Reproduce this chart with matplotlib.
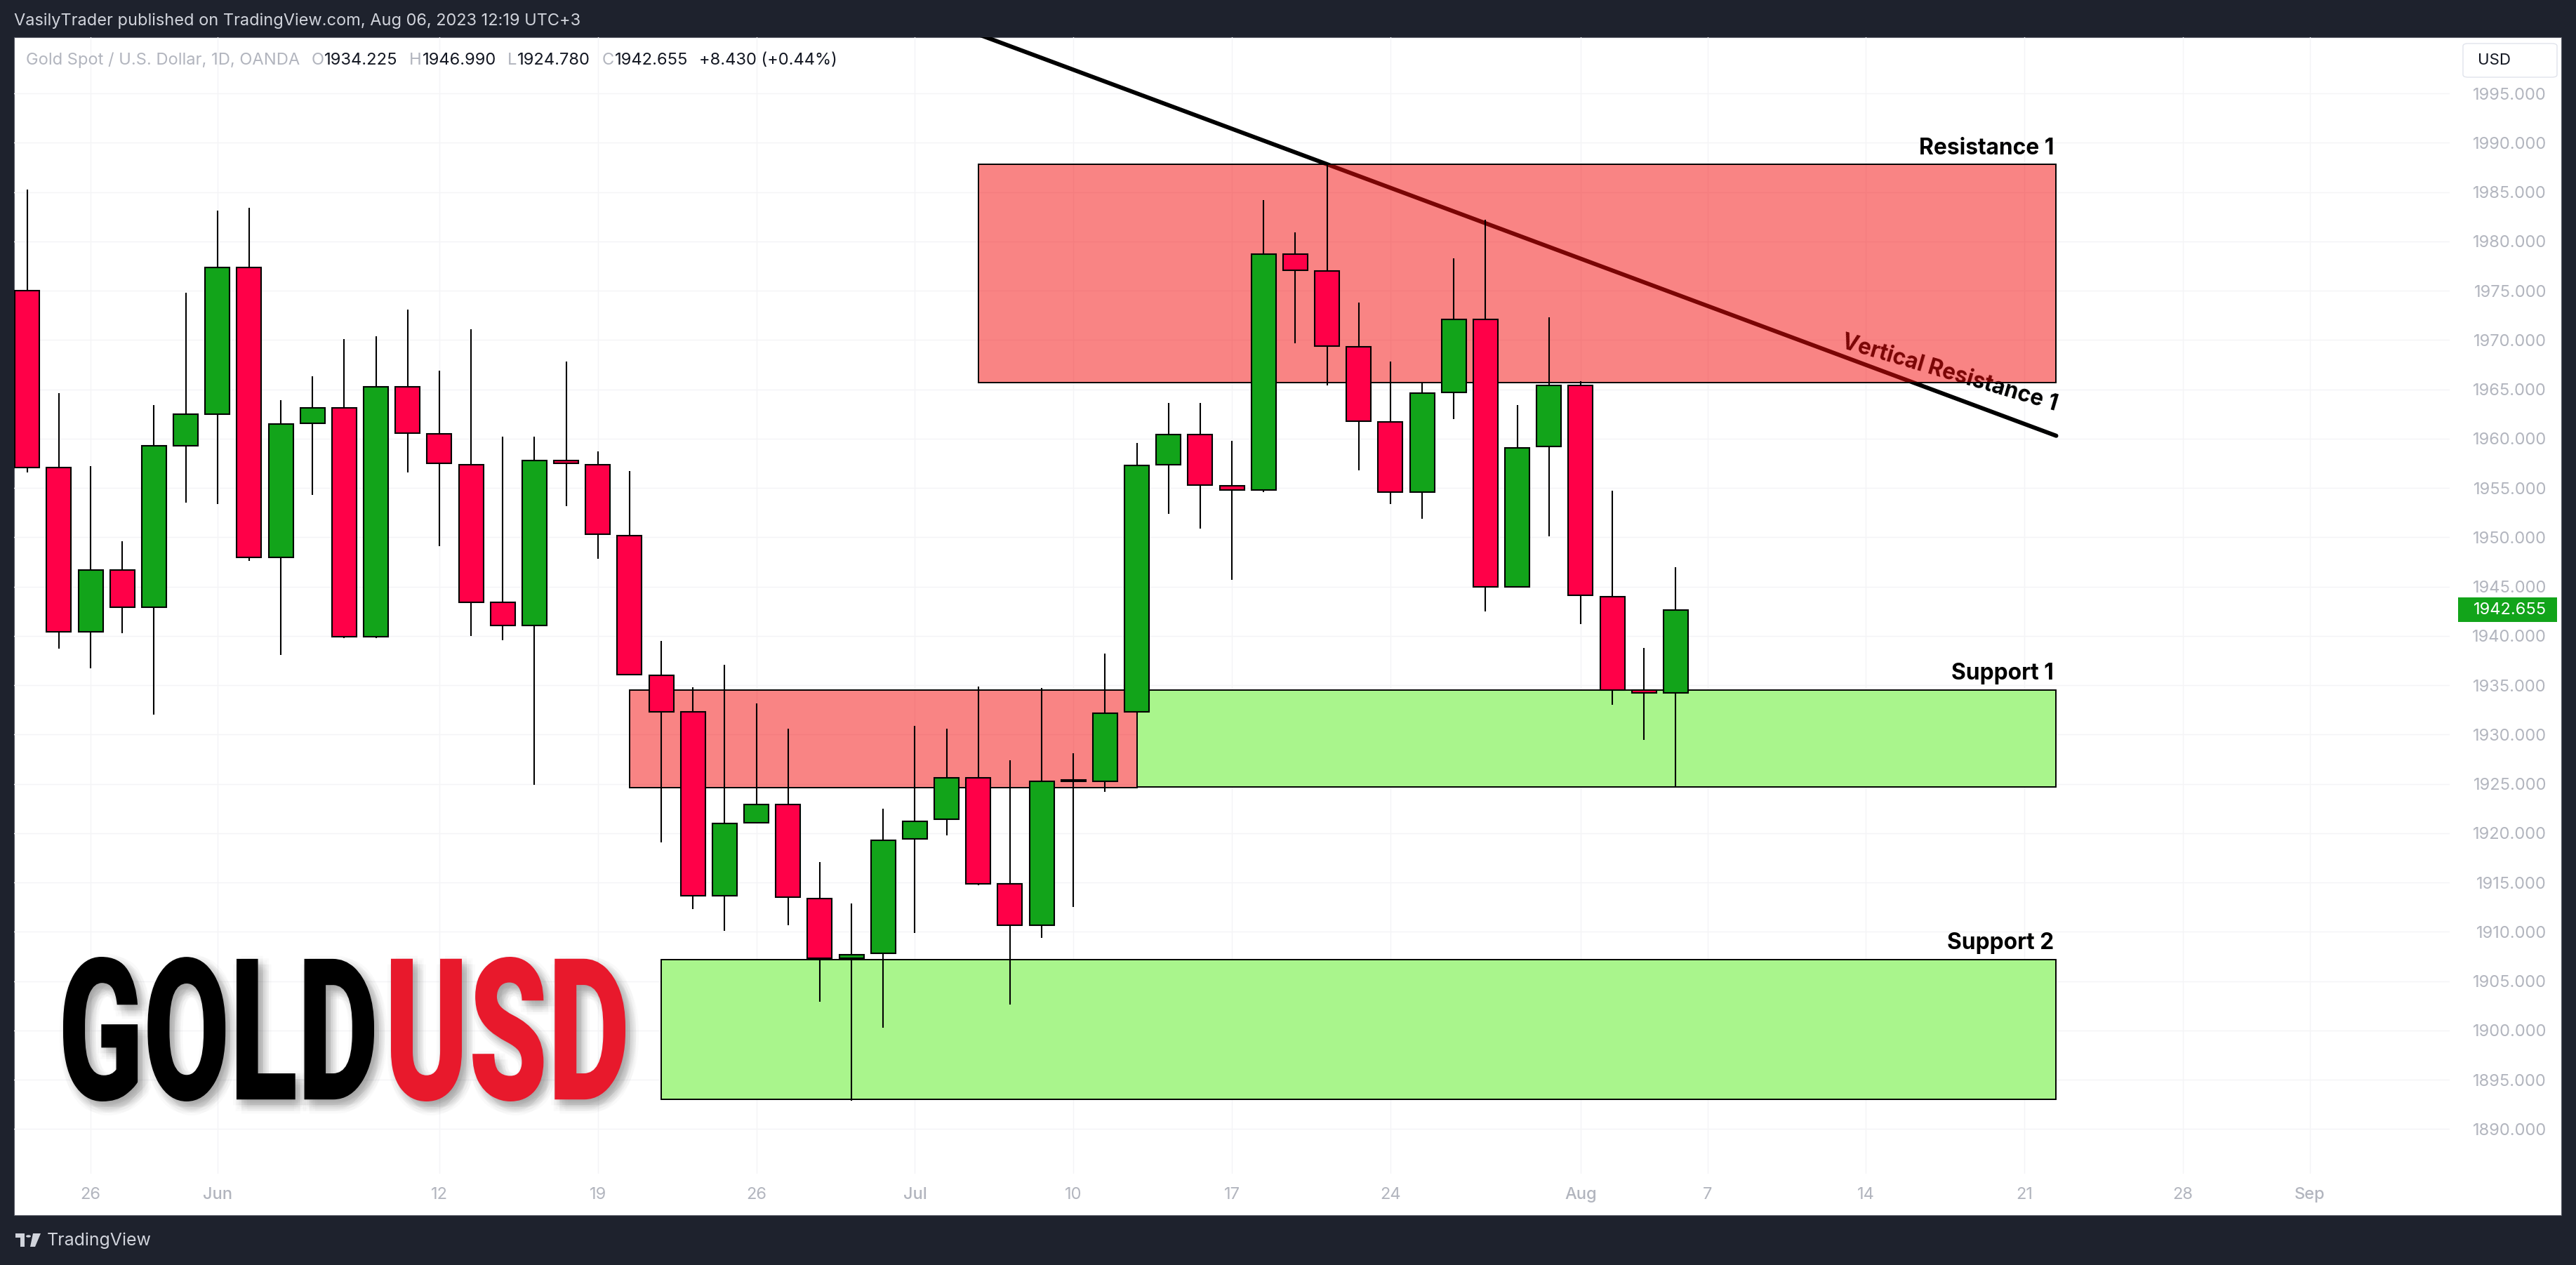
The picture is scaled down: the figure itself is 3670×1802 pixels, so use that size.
import math
import numpy as np
import pandas as pd
import matplotlib
matplotlib.use("Agg")
import matplotlib.pyplot as plt
from matplotlib.patches import Rectangle, FancyBboxPatch, Circle, Polygon
from matplotlib.patheffects import AbstractPathEffect
from matplotlib.transforms import Affine2D

# ---------------- data ----------------
start_date = "2023-05-24"
opens = [1975.0, 1957.1, 1940.4, 1946.7, 1942.9, 1959.3, 1962.5, 1977.4, 1948.0, 1961.6,
         1963.1, 1939.9, 1965.3, 1960.5, 1957.4, 1943.4, 1941.1, 1957.8, 1957.4, 1950.2,
         1936.0, 1932.3, 1913.7, 1921.1, 1922.9, 1913.4, 1907.3, 1907.8, 1919.4, 1921.4,
         1925.6, 1914.9, 1910.7, 1925.3, 1925.3, 1932.3, 1957.4, 1960.4, 1955.2, 1954.8,
         1978.7, 1977.0, 1969.3, 1961.7, 1954.6, 1964.7, 1972.1, 1945.0, 1959.2, 1965.4,
         1944.0, 1934.5, 1934.225]
highs = [1985.3, 1964.6, 1957.2, 1949.6, 1963.4, 1974.8, 1983.1, 1983.4, 1963.9, 1966.3,
         1970.1, 1970.4, 1973.1, 1966.9, 1971.1, 1960.2, 1960.2, 1967.8, 1958.7, 1956.7,
         1939.5, 1934.8, 1937.1, 1933.2, 1930.6, 1917.1, 1912.9, 1922.5, 1930.9, 1930.6,
         1934.9, 1927.4, 1934.7, 1928.1, 1938.2, 1959.6, 1963.6, 1963.6, 1959.8, 1984.2,
         1980.9, 1987.8, 1973.8, 1967.8, 1965.7, 1978.3, 1982.2, 1963.4, 1972.3, 1965.8,
         1954.7, 1938.8, 1946.99]
lows = [1956.6, 1938.7, 1936.7, 1940.3, 1932.0, 1953.5, 1953.4, 1947.6, 1938.1, 1954.3,
        1939.8, 1939.8, 1956.6, 1949.1, 1940.0, 1939.6, 1924.9, 1953.2, 1947.8, 1936.0,
        1919.1, 1912.3, 1910.1, 1921.0, 1910.7, 1902.9, 1892.9, 1900.3, 1909.9, 1919.8,
        1914.7, 1902.6, 1909.4, 1912.5, 1924.2, 1932.0, 1952.4, 1950.9, 1945.7, 1954.6,
        1969.7, 1965.4, 1956.8, 1953.4, 1951.9, 1962.0, 1942.5, 1944.9, 1950.1, 1941.2,
        1933.0, 1929.5, 1924.78]
closes = [1957.1, 1940.4, 1946.7, 1942.9, 1959.3, 1962.5, 1977.4, 1948.0, 1961.5, 1963.1,
          1939.9, 1965.3, 1960.6, 1957.5, 1943.4, 1941.1, 1957.8, 1957.5, 1950.3, 1936.1,
          1932.3, 1913.7, 1921.0, 1922.9, 1913.5, 1907.3, 1907.7, 1919.3, 1921.2, 1925.6,
          1914.9, 1910.7, 1925.3, 1925.4, 1932.2, 1957.3, 1960.4, 1955.3, 1954.8, 1978.7,
          1977.1, 1969.4, 1961.8, 1954.6, 1964.6, 1972.1, 1945.0, 1959.1, 1965.4, 1944.1,
          1934.5, 1934.225, 1942.655]

tick_dates = ["2023-05-26", "2023-06-01", "2023-06-12", "2023-06-19", "2023-06-26",
              "2023-07-03", "2023-07-10", "2023-07-17", "2023-07-24", "2023-08-01",
              "2023-08-07", "2023-08-14", "2023-08-21", "2023-08-28", "2023-09-01"]
tick_labels = ["26", "Jun", "12", "19", "26", "Jul", "10", "17", "24", "Aug",
               "7", "14", "21", "28", "Sep"]

price_ticks = list(range(1890, 2000, 5))

zone_labels = ["Resistance 1", "", "Support 1", "Support 2"]
zone_start = [30, 19, 35, 20]
zone_end = [64, 35, 64, 64]
zone_high = [1987.8, 1934.55, 1934.55, 1907.2]
zone_low = [1965.7, 1924.6, 1924.7, 1893.0]
zone_type = ["resistance", "resistance", "support", "support"]

trend_x = [30, 64]
trend_y = [2001.0, 1960.3]
trend_label = "Vertical Resistance 1"

header_text = "VasilyTrader published on TradingView.com, Aug 06, 2023 12:19 UTC+3"
symbol_text = "Gold Spot / U.S. Dollar, 1D, OANDA"

# ---------------- style ----------------
W, H = 3670, 1802
BG = "#1e222d"
UP = "#12a41a"
DOWN = "#ff0048"
RES_FACE = (0.96, 0.04, 0.04, 0.5)
SUP_FACE = "#a9f58c"
AXIS_TXT = "#b2b5be"
UI = ["Inter", "DejaVu Sans"]

fig = plt.figure(figsize=(W / 100, H / 100), dpi=100)
fig.patch.set_facecolor(BG)


def fx(x):
    return x / W


def fy(y_top):
    return 1 - y_top / H


panel = Rectangle((fx(20), fy(1731)), fx(3649) - fx(20), fy(53) - fy(1731),
                  transform=fig.transFigure, facecolor="white", edgecolor="#5d606b",
                  lw=0.8, zorder=-5)
fig.patches.append(panel)

ax = fig.add_axes([fx(20), fy(1672), fx(3490) - fx(20), fy(53) - fy(1672)])
ax.set_zorder(1)
ax.patch.set_alpha(0)
for s in ax.spines.values():
    s.set_visible(False)
ax.set_xlim(-0.416, 76.41)
ax.set_ylim(1885.48, 2000.71)

# time axis
all_days = pd.bdate_range(start_date, periods=80)
tick_pos = [all_days.get_loc(pd.Timestamp(d)) for d in tick_dates]
ax.set_xticks(tick_pos, labels=tick_labels)
ax.tick_params(axis="x", length=0, pad=14, labelsize=17, labelcolor=AXIS_TXT)
for lbl, txt in zip(ax.get_xticklabels(), tick_labels):
    lbl.set_family(UI)
    if txt.isalpha():
        lbl.set_fontweight("medium")

# price axis
ax.yaxis.tick_right()
ax.set_yticks(price_ticks, labels=[f"{p:.3f}" for p in price_ticks], ha="right")
ax.tick_params(axis="y", length=0, pad=99.4, labelsize=17, labelcolor=AXIS_TXT)
for lbl in ax.get_yticklabels():
    lbl.set_family(UI)

ax.grid(True, color="#f4f4f6", lw=1.0)
ax.set_axisbelow(True)

# candles
o = np.array(opens); h = np.array(highs); l = np.array(lows); c = np.array(closes)
idx = np.arange(len(o))
up = c >= o
body_bottom = np.minimum(o, c)
body_h = np.maximum(np.abs(c - o), 0.12)
ax.vlines(idx, l, h, color="black", lw=1.5, zorder=4)
ax.bar(idx, body_h, bottom=body_bottom, width=0.775,
       color=np.where(up, UP, DOWN), edgecolor="black", linewidth=1.5, zorder=5)

# zones
for lab, x0, x1, hi, lo, kind in zip(zone_labels, zone_start, zone_end, zone_high, zone_low, zone_type):
    face = RES_FACE if kind == "resistance" else SUP_FACE
    ax.add_patch(Rectangle((x0, lo), x1 - x0, hi - lo, facecolor=face,
                           edgecolor="black", lw=1.4, zorder=3))
    if lab:
        ax.text(x1 - 0.07, hi + 1.03, lab, ha="right", va="baseline", fontsize=21,
                fontweight="bold", family=UI, color="black", zorder=6)

# trend line
ax.plot(trend_x, trend_y, color="black", lw=4.3, solid_capstyle="round", zorder=2)
p1 = ax.transData.transform((trend_x[0], trend_y[0]))
p2 = ax.transData.transform((trend_x[1], trend_y[1]))
line_angle = math.degrees(math.atan2(p2[1] - p1[1], p2[0] - p1[0]))
tl = ax.text(trend_x[1] - 0.04, trend_y[1] + 2.5, trend_label, ha="right", va="baseline",
             rotation=line_angle + 4.0, rotation_mode="anchor", fontsize=21,
             fontweight="bold", family=UI, color="black", zorder=2)

# last price tag
last = closes[-1]
ytr = ax.get_yaxis_transform()
ax.add_patch(Rectangle((1.00346, last - 1.245), 0.04063, 2.49, transform=ytr,
                       facecolor=UP, edgecolor="none", clip_on=False, zorder=10))
ax.text(1.03977, last, f"{last:.3f}", transform=ytr, ha="right", va="center",
        color="white", fontsize=17, family=UI, zorder=11, clip_on=False)

# USD box
fig.patches.append(FancyBboxPatch((fx(3509), fy(110)), fx(3643) - fx(3509), fy(62) - fy(110),
                                  boxstyle="round,pad=0,rounding_size=0.002",
                                  transform=fig.transFigure, facecolor="white",
                                  edgecolor="#e0e3eb", lw=1, zorder=2))
fig.text(fx(3553), fy(86), "USD", ha="center", va="center", fontsize=16,
         family=UI, color="#131722", zorder=3)

renderer = fig.canvas.get_renderer()


def width_of(t):
    return t.get_window_extent(renderer).width


# header
ht = fig.text(fx(20), fy(30), header_text, ha="left", va="center", fontsize=18,
              family=UI, color="#d1d4dc")
ht.set_fontsize(ht.get_fontsize() * 806 / width_of(ht))

# legend line
chg = closes[-1] - closes[-2]
pct = chg / closes[-2] * 100
groups = [[(symbol_text, AXIS_TXT)],
          [("O", AXIS_TXT), (f"{opens[-1]:.3f}", "#131722")],
          [("H", AXIS_TXT), (f"{highs[-1]:.3f}", "#131722")],
          [("L", AXIS_TXT), (f"{lows[-1]:.3f}", "#131722")],
          [("C", AXIS_TXT), (f"{closes[-1]:.3f}", "#131722")],
          [(f"{chg:+.3f} ({pct:+.2f}%)", "#131722")]]
gap = 15
texts = []
for g in groups:
    for s, col in g:
        texts.append(fig.text(0, fy(86), s, ha="left", va="center", fontsize=17,
                              family=UI, color=col, zorder=3))
tot = sum(width_of(t) for t in texts)
scale = (1147 - gap * (len(groups) - 1)) / tot
for t in texts:
    t.set_fontsize(t.get_fontsize() * scale)
x = 37
k = 0
for gi, g in enumerate(groups):
    for _ in g:
        t = texts[k]
        t.set_x(fx(x))
        x += width_of(t) + 1
        k += 1
    x += gap

# zone label sizes fit
zl = [t for t in ax.texts if t.get_text() == "Resistance 1"][0]
sz = zl.get_fontsize() * 193 / width_of(zl)
for t in ax.texts:
    if t.get_text() in zone_labels and t.get_text():
        t.set_fontsize(sz)
tl.set_fontsize(tl.get_fontsize() * 324 / width_of(tl) * 0.97)


# GOLDUSD logo (real text, fitted into its box by a path effect)
class FitBox(AbstractPathEffect):
    def __init__(self, box, shadow=(7, -8), alpha=0.028):
        super().__init__()
        self.box = box
        self.alpha = alpha
        offs = [(0, 0)]
        for r in (4, 8, 12):
            for a in range(0, 360, 45):
                offs.append((r * math.cos(math.radians(a)), r * math.sin(math.radians(a))))
        self.offs = [(shadow[0] + dx, shadow[1] + dy) for dx, dy in offs]

    def draw_path(self, renderer, gc, tpath, affine, rgbFace=None):
        ext = tpath.get_extents(affine)
        bx0, by0, bx1, by1 = self.box
        tr = affine + Affine2D().translate(-ext.x0, -ext.y0).scale(
            (bx1 - bx0) / ext.width, (by1 - by0) / ext.height).translate(bx0, by0)
        gc0 = renderer.new_gc()
        gc0.copy_properties(gc)
        gc0.set_linewidth(0)
        gc0.set_alpha(self.alpha)
        for dx, dy in self.offs:
            renderer.draw_path(gc0, tpath, tr + Affine2D().translate(dx, dy), (0.35, 0.35, 0.35, 1))
        gc0.restore()
        renderer.draw_path(gc, tpath, tr, rgbFace)


logo_font = ["Roboto", "DejaVu Sans"]
fig.text(fx(90), fy(1569), "GOLD", fontsize=50, fontweight="black", family=logo_font,
         color="black", path_effects=[FitBox((90, H - 1569, 533, H - 1363))], zorder=20)
fig.text(fx(557), fy(1569), "USD", fontsize=50, fontweight="black", family=logo_font,
         color="#e8192c", path_effects=[FitBox((557, H - 1569, 891, H - 1363))], zorder=20)

# TradingView footer
LOGO = "#d1d4dc"
fig.patches.append(Polygon([(fx(22), fy(1757)), (fx(35), fy(1757)), (fx(35), fy(1776)),
                            (fx(29), fy(1776)), (fx(29), fy(1763)), (fx(22), fy(1763))],
                           closed=True, transform=fig.transFigure, facecolor=LOGO, edgecolor="none"))
fig.patches.append(Circle((fx(40.5), fy(1761)), 3.5 / W, transform=fig.transFigure,
                          facecolor=LOGO, edgecolor="none"))
fig.patches.append(Polygon([(fx(47), fy(1757)), (fx(58), fy(1757)), (fx(50), fy(1776)),
                            (fx(43), fy(1776))], closed=True, transform=fig.transFigure,
                           facecolor=LOGO, edgecolor="none"))
ft = fig.text(fx(67), fy(1767), "TradingView", ha="left", va="center", fontsize=17,
              family=UI, color=LOGO)
ft.set_fontsize(ft.get_fontsize() * 149 / width_of(ft))

fig.savefig("out.png", dpi=100, facecolor=BG)
